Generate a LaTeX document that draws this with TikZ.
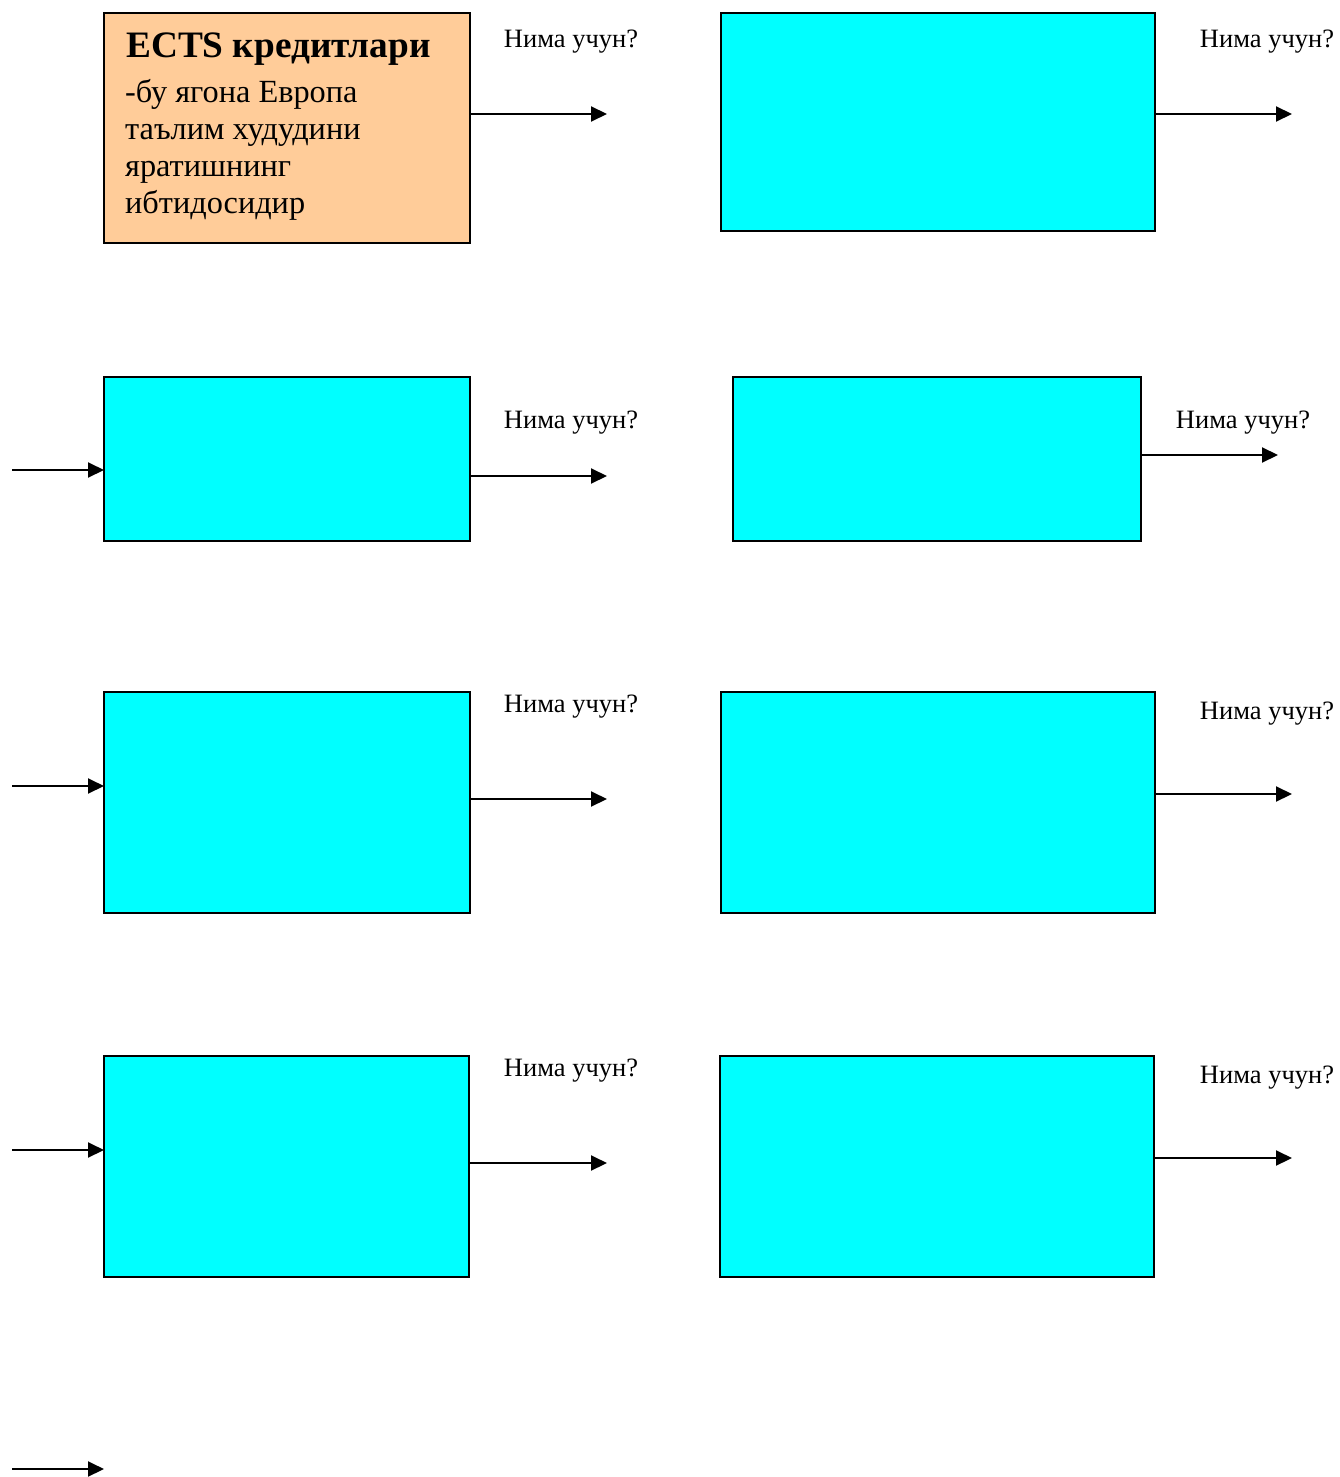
\documentclass[tikz,border=0pt]{standalone}
\usepackage{fontspec}
\setmainfont{Liberation Serif}
\usetikzlibrary{arrows.meta}
\definecolor{peach}{HTML}{FFCC99}
\definecolor{aqua}{HTML}{00FFFF}
\begin{document}
\begin{tikzpicture}[x=1pt,y=-1pt,
  box/.style={draw=black,line width=2pt,inner sep=0pt,outer sep=0pt,anchor=north west},
  cbox/.style={box,fill=aqua},
  arr/.style={line width=2pt,-{Triangle[length=16pt,width=15pt]}},
  lab/.style={font=\fontsize{26.5}{30}\selectfont,inner sep=0pt,anchor=base}]
\useasboundingbox (0,0) rectangle (1340,1477);
\fill[white] (0,0) rectangle (1340,1477);
% boxes
\node[box,fill=peach,minimum width=366pt,minimum height=230pt] (b1) at (104,13) {};
\node[cbox,minimum width=434pt,minimum height=218pt] (b2) at (721,13) {};
\node[cbox,minimum width=366pt,minimum height=164pt] (b3) at (104,377) {};
\node[cbox,minimum width=408pt,minimum height=164pt] (b4) at (733,377) {};
\node[cbox,minimum width=366pt,minimum height=221pt] (b5) at (104,692) {};
\node[cbox,minimum width=434pt,minimum height=221pt] (b6) at (721,692) {};
\node[cbox,minimum width=365pt,minimum height=221pt] (b7) at (104,1056) {};
\node[cbox,minimum width=434pt,minimum height=221pt] (b8) at (720,1056) {};
% text of first box
\node[inner sep=0pt,anchor=base west,font=\fontsize{37.3}{42}\selectfont\bfseries] (t1) at (126,58) {ECTS кредитлари};
\node[inner sep=0pt,anchor=base west,align=left,font=\fontsize{32.3}{37}\selectfont] (t2) at (125,213)
  {-бу ягона Европа\\таълим худудини\\яратишнинг\\ибтидосидир};
% labels
\node[lab] (l1) at (571,48) {Нима учун?};
\node[lab] (l2) at (1267,48) {Нима учун?};
\node[lab] (l3) at (571,428) {Нима учун?};
\node[lab] (l4) at (1243,428) {Нима учун?};
\node[lab] (l5) at (571,712) {Нима учун?};
\node[lab] (l6) at (1267,719) {Нима учун?};
\node[lab] (l7) at (571,1076) {Нима учун?};
\node[lab] (l8) at (1267,1083) {Нима учун?};
% free ends
\coordinate (e1) at (607,114);
\coordinate (e2) at (1292,114);
\coordinate (s3) at (12,470);
\coordinate (e3) at (607,476);
\coordinate (e4) at (1278,455);
\coordinate (s5) at (12,786);
\coordinate (e5) at (607,799);
\coordinate (e6) at (1292,794);
\coordinate (s7) at (12,1150);
\coordinate (e7) at (607,1163);
\coordinate (e8) at (1292,1158);
\coordinate (s9) at (12,1469);
\coordinate (e9) at (104,1469);
% arrows
\draw[arr] (b1.east |- e1) -- (e1);
\draw[arr] (b2.east |- e2) -- (e2);
\draw[arr] (s3) -- (b3.west |- s3);
\draw[arr] (b3.east |- e3) -- (e3);
\draw[arr] (b4.east |- e4) -- (e4);
\draw[arr] (s5) -- (b5.west |- s5);
\draw[arr] (b5.east |- e5) -- (e5);
\draw[arr] (b6.east |- e6) -- (e6);
\draw[arr] (s7) -- (b7.west |- s7);
\draw[arr] (b7.east |- e7) -- (e7);
\draw[arr] (b8.east |- e8) -- (e8);
\draw[arr] (s9) -- (e9);
\end{tikzpicture}
\end{document}
